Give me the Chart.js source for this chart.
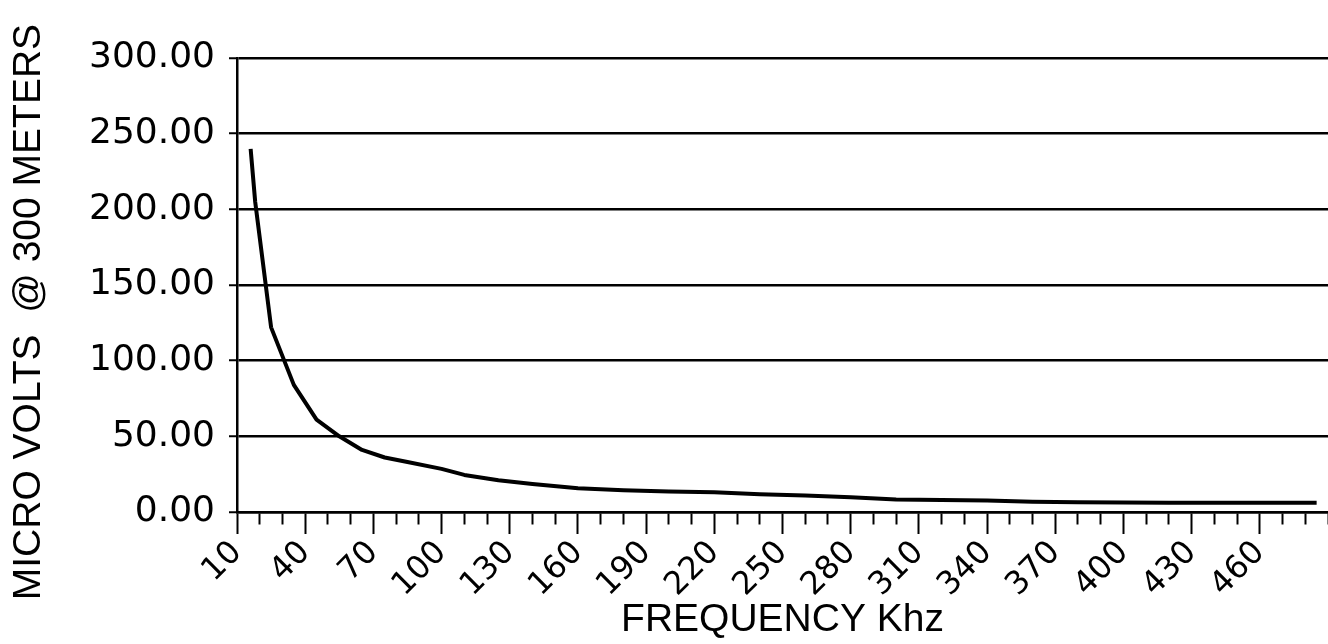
<!DOCTYPE html>
<html>
<head>
<meta charset="utf-8">
<script src="https://cdn.jsdelivr.net/npm/chart.js@4/dist/chart.umd.min.js"></script>
<style>
  html, body { margin: 0; padding: 0; background: #fff; }
  #wrap { width: 1328px; height: 644px; position: relative; }
</style>
</head>
<body>
<div id="wrap"><canvas id="freqChart"></canvas></div>
<script>
// Field strength vs frequency
const freqKhz = [16, 18, 25, 35, 45, 55, 65, 75, 85, 100, 110, 125, 140, 160, 180, 200, 220, 240, 260, 280, 300, 320, 340, 360, 380, 400, 420, 440, 460, 485];
const microVolts = [240, 205, 122, 84, 61, 50, 41, 36, 33, 28.5, 24.5, 21, 18.5, 15.7, 14.4, 13.6, 13.1, 11.7, 10.9, 9.8, 8.2, 7.9, 7.6, 6.8, 6.5, 6.2, 6.1, 6.1, 6.1, 6.1];
const xLabelValues = [10, 40, 70, 100, 130, 160, 190, 220, 250, 280, 310, 340, 370, 400, 430, 460];
const yTickValues = [0, 50, 100, 150, 200, 250, 300];

const ink = '#000';

const ctx = document.getElementById('freqChart').getContext('2d');
new Chart(ctx, {
    type: 'line',
    data: {
        datasets: [{
            label: 'Micro volts',
            data: freqKhz.map((f, i) => ({ x: f, y: microVolts[i] })),
            borderColor: ink,
            borderWidth: 4,
            borderJoinStyle: 'round',
            pointRadius: 0,
            tension: 0,
            fill: false
        }]
    },
    options: {
        responsive: true,
        maintainAspectRatio: false,
        animation: false,
        layout: {
            padding: { top: 58, left: 0, right: 0, bottom: 0 }
        },
        plugins: {
            legend: { display: false },
            tooltip: { enabled: false }
        },
        scales: {
            x: {
                type: 'linear',
                min: 10,
                max: 490,
                afterFit: function(scale) {
                    scale.height = 132;
                    scale.paddingLeft = 0;
                    scale.paddingRight = 0;
                },
                border: { display: true, color: ink, width: 2.5 },
                grid: {
                    drawOnChartArea: false,
                    drawTicks: true,
                    tickLength: 22,
                    tickColor: ink,
                    tickWidth: 2,
                    // minor ticks drawn short through a dash pattern
                    tickBorderDash: function(c) {
                        return xLabelValues.includes(c.tick.value) ? [] : [11, 60];
                    }
                },
                ticks: {
                    stepSize: 10,
                    autoSkip: false,
                    minRotation: 45,
                    maxRotation: 45,
                    padding: 0,
                    color: ink,
                    font: { family: "'DejaVu Sans'", size: 32 },
                    callback: function(value) {
                        return xLabelValues.includes(value) ? String(value) : '';
                    }
                },
                title: {
                    display: true,
                    text: 'FREQUENCY Khz',
                    color: ink,
                    padding: 0,
                    font: { family: "'Liberation Sans'", size: 39 }
                }
            },
            y: {
                min: 0,
                max: 300,
                afterFit: function(scale) { scale.width = 237; },
                afterBuildTicks: function(scale) {
                    scale.ticks = yTickValues.map(v => ({ value: v }));
                },
                border: { display: true, color: ink, width: 2.5 },
                grid: {
                    color: ink,
                    lineWidth: 2.5,
                    tickLength: 8,
                    tickColor: ink,
                    tickWidth: 2
                },
                ticks: {
                    padding: 14,
                    color: ink,
                    font: { family: "'DejaVu Sans'", size: 36 },
                    callback: function(value) {
                        return value.toFixed(2);
                    }
                },
                title: {
                    display: true,
                    // trailing spaces nudge the centred title down like the original
                    text: 'MICRO VOLTS  @ 300 METERS     ',
                    color: ink,
                    padding: { top: 6, bottom: 0 },
                    font: { family: "'Liberation Sans'", size: 39 }
                }
            }
        }
    }
});
</script>
</body>
</html>
